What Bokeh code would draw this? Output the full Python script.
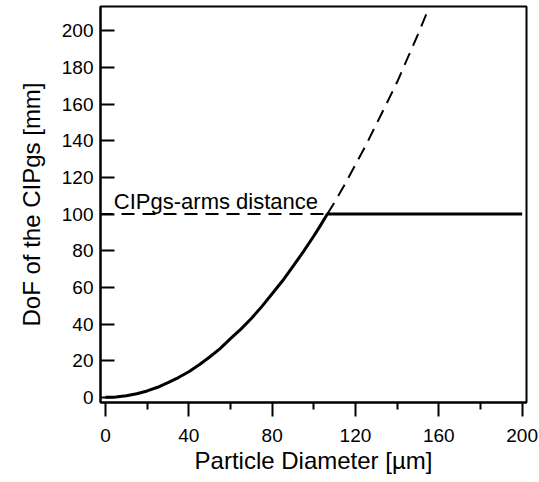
from bokeh.plotting import figure
from bokeh.models import Range1d, FixedTicker, Label, Title
from bokeh.embed import file_html
from bokeh.resources import INLINE

# Data
diameter_um = [0, 5, 10, 15, 20, 25, 30, 35, 40, 45, 50, 55, 60, 65, 70, 75,
               80, 85, 90, 95, 100, 103, 106.5]
dof_mm = [0, 0.2, 0.9, 2, 3.5, 5.5, 8, 10.8, 14, 17.8, 22, 26.6, 32, 37.2,
          43, 49.5, 56.5, 63.6, 71.5, 79.5, 88, 93.4, 100]

# dashed continuation of the DoF curve beyond the arms distance
diameter_ext_um = [106.5, 110, 115, 120, 125, 130, 135, 140, 145, 150, 154]
dof_ext_mm = [100, 106.5, 116.4, 127, 137.5, 149, 160.4, 172, 185, 198, 209]

arms_distance_mm = 100
diameter_max_um = 200

x_ticks = [0, 40, 80, 120, 160, 200]
x_minor_ticks = [20, 60, 100, 140, 180]
y_ticks = [0, 20, 40, 60, 80, 100, 120, 140, 160, 180, 200]

x_start, x_end = -2.4, 202.1
y_start, y_end = -2.8, 213.2

FONT = "Liberation Sans"

p = figure(width=539, height=482, output_backend="svg", toolbar_location=None,
           x_range=Range1d(x_start, x_end), y_range=Range1d(y_start, y_end),
           min_border_left=100, min_border_right=13, min_border_top=6,
           min_border_bottom=80)
p.grid.visible = False
p.outline_line_color = "black"
p.outline_line_width = 2
p.background_fill_color = "white"
p.border_fill_color = "white"

# solid DoF curve, limited by arms distance
x_solid = diameter_um + [diameter_max_um]
y_solid = dof_mm + [arms_distance_mm]
p.line(x_solid, y_solid, line_color="black", line_width=3, line_join="round")

# dashed continuation
p.line(diameter_ext_um, dof_ext_mm, line_color="black", line_width=2,
       line_dash="13 8")
# dashed arms distance line
p.line([x_start, diameter_um[-1]], [arms_distance_mm, arms_distance_mm],
       line_color="black", line_width=2, line_dash="13 8")

lab = Label(x=4, y=107, text="CIPgs-arms distance", text_font=FONT,
            text_font_size="22px", text_color="black",
            text_baseline="alphabetic", text_align="left")
p.add_layout(lab)

ytitle = Title(text="DoF of the CIPgs [mm]", align="center", offset=-12,
               text_font=FONT, text_font_size="24px",
               text_font_style="normal", text_color="black", standoff=27)
p.add_layout(ytitle, "left")

xa = p.xaxis[0]
xa.ticker = FixedTicker(ticks=x_ticks, minor_ticks=x_minor_ticks)
xa.axis_label = "Particle Diameter [µm]"
xa.axis_line_width = 2
xa.major_tick_line_width = 2
xa.minor_tick_line_width = 2
xa.major_tick_in = 0
xa.major_tick_out = 14
xa.minor_tick_in = 0
xa.minor_tick_out = 7
xa.major_label_standoff = 12
xa.axis_label_standoff = 2

ya = p.yaxis[0]
ya.ticker = FixedTicker(ticks=y_ticks, minor_ticks=[])
ya.axis_line_width = 2
ya.major_tick_line_width = 2
ya.major_tick_in = 14
ya.major_tick_out = 0
ya.minor_tick_in = 0
ya.minor_tick_out = 0
ya.major_label_standoff = 7

for ax in (xa, ya):
    ax.major_label_text_font = FONT
    ax.major_label_text_font_size = "19px"
    ax.major_label_text_color = "black"
    ax.axis_label_text_font = FONT
    ax.axis_label_text_font_size = "24px"
    ax.axis_label_text_font_style = "normal"
    ax.axis_label_text_color = "black"
    ax.axis_line_color = "black"
    ax.major_tick_line_color = "black"
    ax.minor_tick_line_color = "black"

open("out.html", "w").write(file_html(p, INLINE))
